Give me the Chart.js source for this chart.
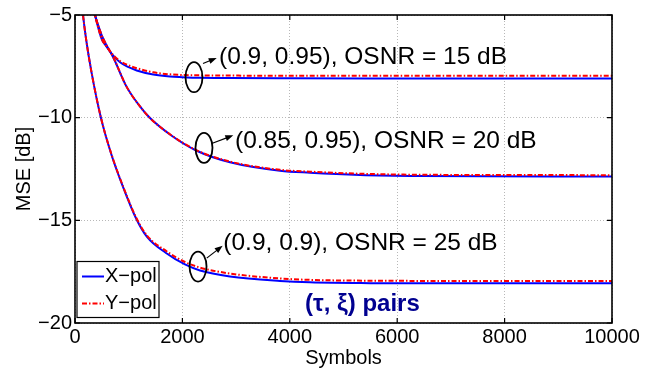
<!DOCTYPE html>
<html>
<head>
<meta charset="utf-8">
<script src="https://cdn.jsdelivr.net/npm/chart.js@4/dist/chart.umd.min.js"></script>
<style>
  body { margin: 0; background: #fff; }
</style>
</head>
<body>
<canvas id="c" width="653" height="374"></canvas>
<script>
// tick values
const xTicks = [0, 2000, 4000, 6000, 8000, 10000];
const yTicks = [-20, -15, -10, -5];

// (0.9, 0.95), OSNR = 15 dB
const sym15 = [300, 372, 428, 497, 577, 713, 838, 987, 1149, 1458, 1769, 1993, 2328, 2886, 3817, 5500, 10000];
const x15 = [-4.2, -5.0, -5.57, -6.17, -6.51, -6.98, -7.30, -7.53, -7.70, -7.90, -8.0, -8.03, -8.06, -8.07, -8.08, -8.09, -8.09];
const y15 = [-4.2, -5.0, -5.57, -6.17, -6.50, -6.95, -7.24, -7.44, -7.59, -7.79, -7.89, -7.92, -7.94, -7.95, -7.96, -7.96, -7.96];

// (0.85, 0.95), OSNR = 20 dB
const sym20 = [300, 372, 497, 577, 713, 962, 1210, 1397, 1801, 2266, 2886, 3817, 4376, 5307, 6425, 10000];
const x20 = [-4.2, -5.0, -5.98, -6.42, -7.07, -8.5, -9.45, -10.02, -10.88, -11.61, -12.17, -12.58, -12.68, -12.79, -12.84, -12.87];
const y20 = [-4.2, -5.0, -5.98, -6.42, -7.06, -8.5, -9.45, -10.02, -10.87, -11.59, -12.14, -12.54, -12.63, -12.73, -12.78, -12.8];

// (0.9, 0.9), OSNR = 25 dB
const sym25 = [110, 149, 205, 307, 484, 670, 894, 1145, 1341, 1695, 2048, 2328, 2886, 3817, 4376, 5500, 7000, 10000];
const x25 = [-4.0, -5.0, -6.15, -7.78, -10.02, -11.73, -13.37, -14.95, -15.81, -16.59, -17.15, -17.44, -17.73, -17.95, -18.02, -18.06, -18.07, -18.07];
const y25 = [-4.0, -5.0, -6.15, -7.78, -10.01, -11.71, -13.34, -14.90, -15.74, -16.49, -17.03, -17.30, -17.59, -17.83, -17.90, -17.94, -17.95, -17.95];

const BLUE = '#0000ff';
const RED = '#ff0000';
const FONT = 'Arial, "Liberation Sans", Helvetica, sans-serif';

function pts(xs, ys) {
  return xs.map((x, i) => ({ x: x, y: ys[i] }));
}

function xLine(data) {
  return { label: 'X\u2212pol', data: data, borderColor: BLUE, borderWidth: 2,
    pointRadius: 0, cubicInterpolationMode: 'monotone', fill: false, showLine: true };
}
function yLine(data) {
  return { label: 'Y\u2212pol', data: data, borderColor: RED, borderWidth: 2,
    borderDash: [5, 2, 1.5, 2], pointRadius: 0, cubicInterpolationMode: 'monotone', fill: false, showLine: true };
}

// annotations, in data coordinates
const notes = [
  { text: '(0.9, 0.95), OSNR = 15 dB', c: [2216, -8.03], a: [2384, -7.36], b: [2639, -7.09], t: [2682, -7.07] },
  { text: '(0.85, 0.95), OSNR = 20 dB', c: [2402, -11.47], a: [2546, -11.26], b: [2948, -10.86], t: [2980, -11.15] },
  { text: '(0.9, 0.9), OSNR = 25 dB', c: [2291, -17.25], a: [2453, -16.84], b: [2750, -16.24], t: [2762, -16.14] }
];

const decor = {
  id: 'decor',
  afterDraw(chart) {
    const ctx = chart.ctx;
    const a = chart.chartArea;
    const sx = chart.scales.x, sy = chart.scales.y;
    ctx.save();

    // frame + inward ticks
    ctx.strokeStyle = '#000';
    ctx.lineWidth = 1.6;
    ctx.strokeRect(a.left, a.top, a.right - a.left, a.bottom - a.top);
    ctx.lineWidth = 1.2;
    ctx.beginPath();
    xTicks.forEach(v => {
      const p = sx.getPixelForValue(v);
      ctx.moveTo(p, a.bottom); ctx.lineTo(p, a.bottom - 5);
      ctx.moveTo(p, a.top); ctx.lineTo(p, a.top + 5);
    });
    yTicks.forEach(v => {
      const p = sy.getPixelForValue(v);
      ctx.moveTo(a.left, p); ctx.lineTo(a.left + 5, p);
      ctx.moveTo(a.right, p); ctx.lineTo(a.right - 5, p);
    });
    ctx.stroke();

    // annotations
    ctx.fillStyle = '#000';
    ctx.font = '24.5px ' + FONT;
    ctx.textBaseline = 'middle';
    notes.forEach(n => {
      const cx = sx.getPixelForValue(n.c[0]), cy = sy.getPixelForValue(n.c[1]);
      ctx.lineWidth = 1.8;
      ctx.beginPath();
      ctx.ellipse(cx, cy, 8.5, 15, 0, 0, Math.PI * 2);
      ctx.stroke();
      const x1 = sx.getPixelForValue(n.a[0]), y1 = sy.getPixelForValue(n.a[1]);
      const x2 = sx.getPixelForValue(n.b[0]), y2 = sy.getPixelForValue(n.b[1]);
      const ang = Math.atan2(y2 - y1, x2 - x1);
      ctx.lineWidth = 1.2;
      ctx.beginPath();
      ctx.moveTo(x1, y1);
      ctx.lineTo(x2 - 5 * Math.cos(ang), y2 - 5 * Math.sin(ang));
      ctx.stroke();
      ctx.beginPath();
      ctx.moveTo(x2, y2);
      ctx.lineTo(x2 - 8 * Math.cos(ang) + 3 * Math.sin(ang), y2 - 8 * Math.sin(ang) - 3 * Math.cos(ang));
      ctx.lineTo(x2 - 8 * Math.cos(ang) - 3 * Math.sin(ang), y2 - 8 * Math.sin(ang) + 3 * Math.cos(ang));
      ctx.closePath();
      ctx.fill();
      ctx.textAlign = 'left';
      ctx.fillText(n.text, sx.getPixelForValue(n.t[0]), sy.getPixelForValue(n.t[1]));
    });

    // (tau, xi) pairs
    ctx.fillStyle = '#000090';
    ctx.font = 'bold 24px ' + FONT;
    ctx.fillText('(\u03c4, \u03be) pairs', sx.getPixelForValue(4283), sy.getPixelForValue(-19.11));

    // legend
    const lx = a.left + 2, ly = 261.5, lw = 82, lh = 56;
    ctx.fillStyle = '#fff';
    ctx.fillRect(lx, ly, lw, lh);
    ctx.strokeStyle = '#000';
    ctx.lineWidth = 1.2;
    ctx.strokeRect(lx, ly, lw, lh);
    const items = [chart.data.datasets[3], chart.data.datasets[0]];
    items.forEach((ds, i) => {
      const yy = ly + 15 + i * 27;
      ctx.strokeStyle = ds.borderColor;
      ctx.lineWidth = ds.borderWidth;
      ctx.setLineDash(ds.borderDash || []);
      ctx.beginPath();
      ctx.moveTo(lx + 5, yy); ctx.lineTo(lx + 27, yy);
      ctx.stroke();
      ctx.setLineDash([]);
      ctx.fillStyle = '#000';
      ctx.font = '20px ' + FONT;
      ctx.fillText(ds.label, lx + 28, yy);
    });

    // axis titles
    ctx.fillStyle = '#000';
    ctx.font = '20px ' + FONT;
    ctx.textAlign = 'center';
    ctx.fillText('Symbols', (a.left + a.right) / 2, 358);
    ctx.translate(24, (a.top + a.bottom) / 2);
    ctx.rotate(-Math.PI / 2);
    ctx.fillText('MSE [dB]', 0, 0);
    ctx.restore();
  }
};

new Chart(document.getElementById('c'), {
  type: 'scatter',
  data: {
    datasets: [
      yLine(pts(sym15, y15)), yLine(pts(sym20, y20)), yLine(pts(sym25, y25)),
      xLine(pts(sym15, x15)), xLine(pts(sym20, x20)), xLine(pts(sym25, x25))
    ]
  },
  options: {
    responsive: false,
    animation: false,
    devicePixelRatio: 1,
    layout: { padding: { top: 14, right: 41, left: 0, bottom: 0 } },
    plugins: { legend: { display: false }, tooltip: { enabled: false } },
    scales: {
      x: {
        type: 'linear', min: 0, max: 10000,
        afterBuildTicks: s => { s.ticks = xTicks.map(v => ({ value: v })); },
        afterFit: s => { s.height = 51; },
        ticks: { color: '#000', font: { size: 20, family: FONT }, padding: 2, maxRotation: 0,
          callback: v => String(v) },
        grid: { color: '#b8b8b8', lineWidth: 1, drawTicks: false },
        border: { display: false, dash: [1, 2] }
      },
      y: {
        type: 'linear', min: -20, max: -5,
        afterBuildTicks: s => { s.ticks = yTicks.map(v => ({ value: v })); },
        afterFit: s => { s.width = 75; },
        ticks: { color: '#000', font: { size: 20, family: FONT }, padding: 3,
          callback: v => String(v).replace('-', '\u2212') },
        grid: { color: '#b8b8b8', lineWidth: 1, drawTicks: false },
        border: { display: false, dash: [1, 2] }
      }
    }
  },
  plugins: [decor]
});
</script>
</body>
</html>
